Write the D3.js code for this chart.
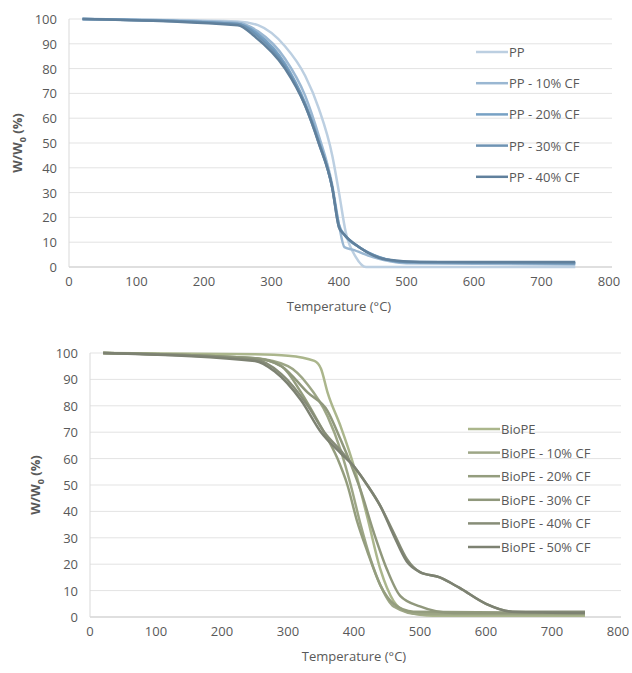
<!DOCTYPE html>
<html><head><meta charset="utf-8">
<script src="https://cdn.jsdelivr.net/npm/d3@7"></script>
<style>body{margin:0;background:#fff}text{font-family:"Open Sans",sans-serif;fill:#595959}</style>
</head><body><svg id="c" width="632" height="673"></svg>
<script>
var ppNames = ["PP", "PP - 10% CF", "PP - 20% CF", "PP - 30% CF", "PP - 40% CF"]
var ppColors = ["#bccfe1", "#9ab7d2", "#77a1c4", "#6e93b3", "#60809c"]
var ppData = [
  [[20,100],[250,99],[280,97.5],[320,89],[350,77],[370,64],[390,45],[400,30],[410,14],[425,4],[440,0],[750,0]],
  [[20,100],[250,98.5],[280,95],[320,84],[350,69],[370,53],[390,33],[400,17],[408,8],[420,7],[450,4],[500,1.5],[750,1]],
  [[20,100],[250,98],[280,94],[320,82],[350,66],[370,51],[390,32],[400,17],[408,13],[430,8],[460,4],[500,2],[750,1.5]],
  [[20,100],[250,98],[280,93],[320,81],[350,65],[370,50],[390,32],[400,16],[408,13],[430,8],[470,3],[500,2],[750,1.5]],
  [[20,100],[250,97.5],[275,93],[320,80],[350,65],[370,50],[390,32],[400,16],[408,13],[430,8],[470,3],[520,2],[750,2]]
]
var peNames = ["BioPE", "BioPE - 10% CF", "BioPE - 20% CF", "BioPE - 30% CF", "BioPE - 40% CF", "BioPE - 50% CF"]
var peColors = ["#abb68c", "#9da686", "#949d7e", "#90987c", "#878d78", "#7d8272"]
var peData = [
  [[20,100],[250,99.5],[300,99],[340,97],[350,94],[360,85],[380,72],[400,57],[420,38],[440,18],[460,6],[480,2],[520,0.5],[750,0.5]],
  [[20,100],[250,98],[300,95],[330,88],[360,76],[380,63],[395,50],[410,35],[425,22],[440,12],[460,4],[500,1],[750,1]],
  [[20,100],[250,98],[290,95],[320,85],[350,72],[375,60],[390,50],[405,36],[420,25],[440,12],[460,5],[490,2],[750,1.5]],
  [[20,100],[250,98],[290,95],[330,85],[360,78],[380,67],[395,58],[410,48],[430,32],[450,18],[470,8],[500,4],[550,1.5],[750,1.5]],
  [[20,100],[250,97.5],[290,92],[330,80],[355,70],[380,63],[400,57],[420,50],[440,42],[460,32],[480,22],[500,17],[530,15],[560,11],[600,5],[640,2],[750,2]],
  [[20,100],[250,97],[280,93],[320,82],[350,70],[380,62],[400,57],[420,50],[440,42],[460,31],[480,21],[500,17],[530,15],[560,11],[600,5],[640,2],[750,1.5]]
]
var xTicks = d3.range(0, 801, 100)
var yTicks = d3.range(0, 101, 10)

var svg = d3.select("#c")

function chart(cfg) {
  var x = d3.scaleLinear().domain([0, 800]).range([cfg.x0, cfg.x1])
  var y = d3.scaleLinear().domain([0, 100]).range([cfg.y0, cfg.y1])
  var g = svg.append("g")
  g.selectAll(".grid").data(yTicks.slice(1)).enter().append("line")
    .attr("x1", cfg.x0).attr("x2", cfg.x1 + 3).attr("y1", y).attr("y2", y)
    .style("stroke", "#e3e3e3")
  g.append("line").attr("x1", cfg.x0).attr("x2", cfg.x1 + 3).attr("y1", cfg.y0).attr("y2", cfg.y0).style("stroke", "#bfbfbf")
  g.append("line").attr("x1", cfg.x0).attr("x2", cfg.x0).attr("y1", cfg.y0).attr("y2", cfg.y1).style("stroke", "#d9d9d9")
  g.selectAll(".xt").data(xTicks).enter().append("text")
    .attr("x", x).attr("y", cfg.y0 + 19).attr("text-anchor", "middle").style("font-size", "13px").text(d => d)
  g.selectAll(".yt").data(yTicks).enter().append("text")
    .attr("x", cfg.x0 - 12).attr("y", d => y(d) + 5).attr("text-anchor", "end").style("font-size", "13px").text(d => d)
  g.append("text").attr("x", (cfg.x0 + cfg.x1) / 2).attr("y", cfg.y0 + 44).attr("text-anchor", "middle")
    .style("font-size", "13px").text("Temperature (°C)")
  var yl = g.append("text").attr("transform", "translate(" + cfg.ylx + "," + (cfg.y0 + cfg.y1) / 2 + ") rotate(-90)")
    .attr("text-anchor", "middle").style("font-size", "13px").style("font-weight", "bold")
  yl.append("tspan").text("W/W")
  yl.append("tspan").attr("dy", 4).style("font-size", "9px").text("0")
  yl.append("tspan").attr("dy", -4).text(" (%)")
  var line = d3.line().x(d => x(d[0])).y(d => y(d[1])).curve(d3.curveMonotoneX)
  cfg.data.forEach(function (s, i) {
    g.append("path").attr("d", line(s)).style("fill", "none").style("stroke", cfg.colors[i]).style("stroke-width", 2.5)
  })
  cfg.names.forEach(function (n, i) {
    var ly = cfg.ly + i * cfg.ldy
    g.append("line").attr("x1", cfg.lx).attr("x2", cfg.lx + 32).attr("y1", ly).attr("y2", ly)
      .style("stroke", cfg.colors[i]).style("stroke-width", 2.5)
    g.append("text").attr("x", cfg.lx + 33).attr("y", ly + 5).style("font-size", "13px").text(n)
  })
}

chart({x0: 69, x1: 609, y0: 267, y1: 19, ylx: 22, data: ppData, colors: ppColors, names: ppNames, lx: 476, ly: 52, ldy: 31.2})
chart({x0: 90, x1: 618, y0: 617, y1: 353, ylx: 40, data: peData, colors: peColors, names: peNames, lx: 468, ly: 429, ldy: 23.6})
</script></body></html>
